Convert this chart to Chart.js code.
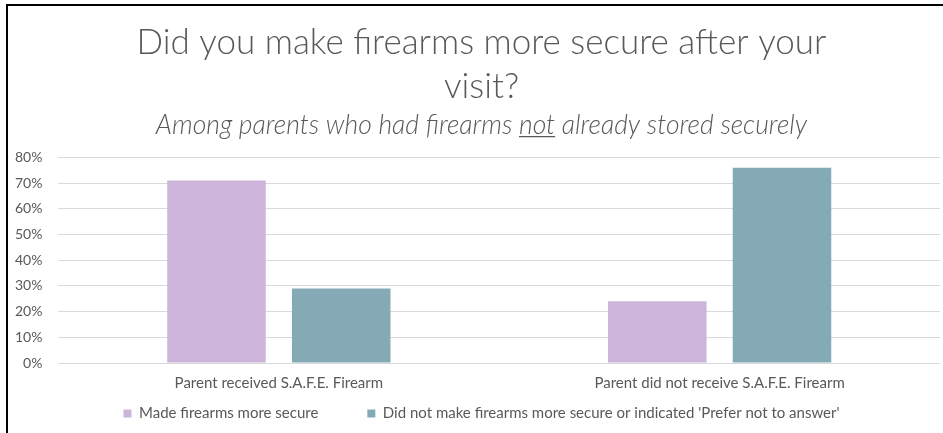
<!DOCTYPE html>
<html>
<head>
<meta charset="utf-8">
<script src="https://cdn.jsdelivr.net/npm/chart.js@4/dist/chart.umd.min.js"></script>
<style>
  html, body { margin: 0; padding: 0; background: #fff; }
  #wrap { position: relative; width: 943px; height: 433px; overflow: hidden; }
  #frame { position: absolute; left: 6px; top: 4px; width: 960px; height: 460px;
           border-top: 2px solid #000; border-left: 2px solid #000; pointer-events: none; }
  canvas { position: absolute; left: 0; top: 0; }
</style>
</head>
<body>
<div id="wrap">
  <canvas id="c" width="943" height="433"></canvas>
  <div id="frame"></div>
</div>
<script>
const categories = ["Parent received S.A.F.E. Firearm", "Parent did not receive S.A.F.E. Firearm"];
const seriesNames = ["Made firearms more secure", "Did not make firearms more secure or indicated 'Prefer not to answer'"];
const madeSecure = [0.71, 0.24];
const notSecure = [0.29, 0.76];
const titleLines = ["Did you make firearms more secure after your", "visit?"];
const subtitleText = "Among parents who had firearms not already stored securely";

const FONT = "Lato, 'Open Sans', sans-serif";

function findSubtitle(chart) {
  return chart.boxes.find(b => b !== chart.titleBlock && b.options && b.options.text === subtitleText);
}

// nudge title/subtitle/legend to match the reference layout
const layoutTweak = {
  id: 'layoutTweak',
  afterLayout(chart) {
    const dx = 12, dy = 38;
    const t = chart.titleBlock;
    if (t) { t.left += dx; t.right += dx; }
    const s = findSubtitle(chart);
    if (s) { s.left += dx; s.right += dx; }
    const l = chart.legend;
    if (l) { l.left += dx; l.right += dx; l.top -= dy; l.bottom -= dy; }
  }
};

// underline "not" in subtitle
const underlinePlugin = {
  id: 'underlineNot',
  afterDraw(chart) {
    const sub = findSubtitle(chart);
    if (!sub) return;
    const ctx = chart.ctx;
    const font = Chart.helpers.toFont(sub.options.font);
    ctx.save();
    ctx.font = font.string;
    const full = ctx.measureText(subtitleText).width;
    const pre = ctx.measureText("Among parents who had firearms ").width;
    const w = ctx.measureText("not").width;
    const cx = (sub.left + sub.right) / 2;
    const x0 = cx - full / 2 + pre;
    const y = sub.top + sub.options.padding.top + font.lineHeight / 2 + font.size * 0.42;
    ctx.strokeStyle = '#595959';
    ctx.lineWidth = 1.2;
    ctx.beginPath();
    ctx.moveTo(x0, y);
    ctx.lineTo(x0 + w, y);
    ctx.stroke();
    ctx.restore();
  }
};

new Chart(document.getElementById('c'), {
  type: 'bar',
  data: {
    labels: categories,
    datasets: [
      { label: seriesNames[0], data: madeSecure, backgroundColor: '#cdb4db' },
      { label: seriesNames[1], data: notSecure, backgroundColor: '#84abb5' }
    ]
  },
  options: {
    responsive: false,
    animation: false,
    devicePixelRatio: 1,
    categoryPercentage: 0.566,
    barPercentage: 0.79,
    layout: { padding: { left: -1, right: 3, top: 20, bottom: -36 } },
    plugins: {
      title: {
        display: true,
        text: titleLines,
        color: '#595959',
        font: { family: FONT, size: 35, weight: '300', lineHeight: 1.28 },
        padding: { top: 0, bottom: 0 }
      },
      subtitle: {
        display: true,
        text: subtitleText,
        color: '#595959',
        font: { family: FONT, size: 26.5, style: 'italic', weight: '300', lineHeight: 1.2 },
        padding: { top: 0, bottom: 16 }
      },
      legend: {
        position: 'bottom',
        labels: {
          color: '#595959',
          font: { family: FONT, size: 15 },
          boxWidth: 8, boxHeight: 8,
          padding: 49
        }
      },
      tooltip: { enabled: false }
    },
    scales: {
      x: {
        grid: { display: false },
        border: { display: false },
        ticks: { color: '#595959', font: { family: FONT, size: 15 }, padding: 3 }
      },
      y: {
        min: 0, max: 0.8,
        ticks: {
          stepSize: 0.1,
          color: '#595959',
          font: { family: FONT, size: 14 },
          padding: 16,
          callback: v => Math.round(v * 100) + '%'
        },
        grid: { color: '#d9d9d9', drawTicks: false },
        border: { display: false }
      }
    }
  },
  plugins: [layoutTweak, underlinePlugin]
});
</script>
</body>
</html>
